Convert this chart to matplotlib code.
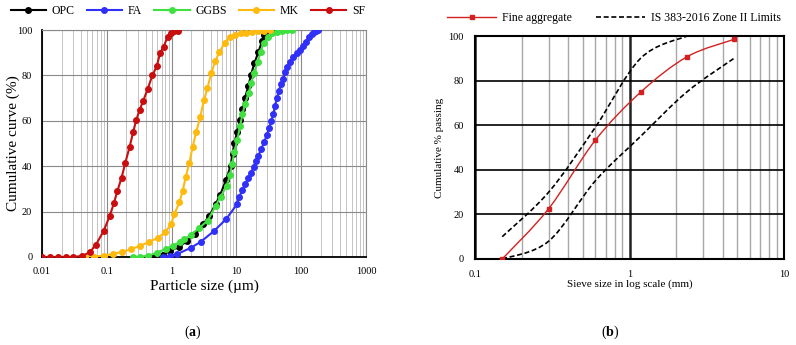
import numpy as np
import matplotlib
matplotlib.use('Agg')
import matplotlib.pyplot as plt
from matplotlib.path import Path
from matplotlib.patches import PathPatch
from matplotlib.lines import Line2D
from matplotlib.ticker import FixedLocator, LogLocator, NullFormatter, FuncFormatter

plt.rcParams['font.family'] = ['Liberation Serif', 'DejaVu Serif']
plt.rcParams['mathtext.fontset'] = 'custom'
plt.rcParams['mathtext.rm'] = 'Liberation Serif'
plt.rcParams['mathtext.bf'] = 'Liberation Serif:bold'

# (a) particle size distribution
opc_size = [0.492, 0.745, 0.955, 1.32, 1.75, 2.30, 3.09, 3.82, 4.79, 5.65,
            6.91, 8.16, 8.75, 9.30, 10.3, 11.4, 12.4, 13.6, 15.3, 16.8,
            18.9, 21.8, 24.8, 27.0, 29.5, 40.0]
opc_cum = [0, 1.0, 2.8, 4.5, 7.2, 10.0, 14.5, 18.2, 23.3, 27.5,
           33.9, 40.2, 45.5, 50.4, 55.1, 60.4, 65.2, 70.2, 75.3, 80.2,
           85.3, 90.2, 95.0, 97.6, 99.0, 100]

fa_size = [0.745, 0.93, 1.22, 1.97, 2.85, 4.57, 7.0, 10.3, 11.0, 12.3,
           13.6, 15.3, 16.8, 18.5, 19.9, 21.8, 24.0, 27.0, 29.4, 32.0,
           34.5, 37.1, 39.4, 42.3, 45.4, 48.8, 53.0, 56.2, 61.1, 67.2,
           75.5, 85.3, 95.8, 108, 119, 133, 147, 158, 169, 184]
fa_cum = [0, 0.4, 1.3, 4.0, 6.8, 11.6, 16.8, 23.4, 26.3, 29.5,
          32.2, 34.7, 37.1, 39.8, 42.3, 44.6, 47.4, 50.8, 53.7, 56.8,
          59.9, 63.0, 66.5, 70.2, 73.3, 76.2, 78.6, 81.6, 83.8, 85.8,
          88.0, 89.7, 91.2, 93.1, 94.9, 96.8, 98.1, 99.0, 99.7, 100]

ggbs_size = [0.251, 0.325, 0.437, 0.589, 0.810, 1.04, 1.35, 1.57, 1.99, 2.68,
             3.60, 4.79, 5.72, 7.08, 7.97, 8.6, 9.30, 10.3, 11.4, 12.4,
             13.6, 15.5, 17.0, 18.7, 21.3, 23.7, 26.4, 31.1, 35.0, 41.8,
             50.0, 59.7, 72.1]
ggbs_cum = [0, 0.2, 0.5, 1.9, 3.5, 5.0, 6.6, 7.9, 9.7, 12.9,
            16.0, 22.6, 26.6, 31.3, 36.1, 41.0, 46.4, 51.5, 57.7, 62.9,
            67.4, 72.4, 76.5, 81.2, 85.9, 90.4, 94.4, 97.1, 98.5, 99.3,
            99.6, 100, 100]

mk_size = [0.0461, 0.0642, 0.0895, 0.126, 0.172, 0.236, 0.329, 0.448, 0.617, 0.800,
           0.979, 1.10, 1.32, 1.48, 1.65, 1.88, 2.11, 2.41, 2.77, 3.16,
           3.56, 4.10, 4.73, 5.45, 6.59, 7.97, 9.51, 11.6, 14.2, 17.6,
           21.8, 26.7, 33.0]
mk_cum = [0, 0.2, 0.6, 1.3, 2.3, 3.4, 5.0, 6.6, 8.5, 11.0,
          14.4, 18.8, 24.1, 29.1, 35.1, 41.5, 48.5, 55.2, 61.8, 69.0,
          74.3, 81.1, 86.3, 90.2, 94.4, 96.8, 97.7, 98.5, 98.8, 99.1,
          99.4, 99.7, 99.8]

sf_size = [0.01, 0.0133, 0.0179, 0.0232, 0.0304, 0.0419, 0.0551, 0.068, 0.0897, 0.111,
           0.129, 0.146, 0.169, 0.193, 0.225, 0.256, 0.285, 0.321, 0.366, 0.427,
           0.505, 0.589, 0.663, 0.755, 0.869, 0.968, 1.09, 1.24]
sf_cum = [0, 0, 0, 0, 0, 0.5, 2.2, 5.4, 11.6, 18.1,
          23.8, 29.2, 34.9, 41.5, 48.5, 55.2, 60.4, 64.8, 68.9, 74.0,
          80.0, 84.0, 89.7, 92.7, 97.1, 98.7, 99.4, 99.7]

series_names = ['OPC', 'FA', 'GGBS', 'MK', 'SF']
series_colors = ['#000000', '#3030f8', '#3fe03f', '#ffba10', '#c80e0e']

# (b) sieve analysis
sieve = [0.15, 0.3, 0.6, 1.18, 2.36, 4.75]
fine_agg = [0, 22.6, 53.2, 74.8, 90.7, 98.5]
zone2_upper = [10, 30, 59, 90, 100]
zone2_lower = [0, 8, 35, 55, 75, 90]


def smooth_path(xs, ys):
    # excel-style smoothed line: bezier through the points, in log-x space
    P = np.column_stack([np.log10(xs), ys]).astype(float)
    n = len(P)
    verts = [P[0]]
    codes = [Path.MOVETO]
    for i in range(n - 1):
        p0 = P[i - 1] if i > 0 else P[i]
        p3 = P[i + 2] if i + 2 < n else P[i + 1]
        verts += [P[i] + (P[i + 1] - p0) / 6, P[i + 1] - (p3 - P[i]) / 6, P[i + 1]]
        codes += [Path.CURVE4] * 3
    V = np.array(verts)
    V[:, 0] = 10 ** V[:, 0]
    return Path(V, codes)


fig = plt.figure(figsize=(7.96, 3.45), dpi=100)

# ---- (a)
ax1 = fig.add_axes([42 / 796, 88 / 345, 324 / 796, 227 / 345])
data = [(opc_size, opc_cum), (fa_size, fa_cum), (ggbs_size, ggbs_cum),
        (mk_size, mk_cum), (sf_size, sf_cum)]
handles = []
for (x, y), name, c in zip(data, series_names, series_colors):
    h, = ax1.plot(x, y, '-o', color=c, lw=1.5, ms=4, label=name, zorder=3)
    handles.append(h)
ax1.set_xscale('log')
ax1.set_xlim(0.01, 1000)
ax1.set_ylim(0, 100)
ax1.set_yticks([0, 20, 40, 60, 80, 100])
ax1.xaxis.set_major_locator(FixedLocator([0.01, 0.1, 1, 10, 100, 1000]))
ax1.xaxis.set_minor_locator(LogLocator(base=10, subs=np.arange(2, 10)))
ax1.xaxis.set_major_formatter(FuncFormatter(lambda v, p: '%g' % v))
ax1.xaxis.set_minor_formatter(NullFormatter())
ax1.grid(True, which='major', color='#8a8a8a', lw=0.8)
ax1.grid(True, which='minor', axis='x', color='#c4c4c4', lw=0.7)
ax1.tick_params(which='both', length=0, labelsize=7.5, pad=7)
ax1.tick_params(axis='y', pad=7)
for s in ['top', 'right']:
    ax1.spines[s].set_color('#8a8a8a')
    ax1.spines[s].set_linewidth(0.8)
for s in ['left', 'bottom']:
    ax1.spines[s].set_linewidth(1.3)
ax1.set_xlabel('Particle size (µm)', fontsize=11)
ax1.set_ylabel('Cumulative curve (%)', fontsize=11)
ax1.xaxis.set_label_coords(0.5, -0.1)
ax1.yaxis.set_label_coords(-0.068, 0.5)
fig.legend(handles=handles, loc='center', bbox_to_anchor=(188 / 796, 1 - 11 / 345),
           ncol=5, frameon=False, fontsize=8.5, handlelength=3, handletextpad=0.5,
           columnspacing=1.0, borderpad=0)

# ---- (b)
ax2 = fig.add_axes([475 / 796, 86 / 345, 309 / 796, 223 / 345])
ax2.add_patch(PathPatch(smooth_path(sieve[:len(zone2_upper)], zone2_upper), fill=False,
                        edgecolor='black', lw=1.2, linestyle=(0, (3, 1.6)), zorder=3))
ax2.add_patch(PathPatch(smooth_path(sieve, zone2_lower), fill=False,
                        edgecolor='black', lw=1.2, linestyle=(0, (3, 1.6)), zorder=3))
ax2.add_patch(PathPatch(smooth_path(sieve, fine_agg), fill=False,
                        edgecolor='#d42020', lw=1.0, zorder=4))
ax2.plot(sieve, fine_agg, 's', color='#d42020', ms=3.5, zorder=5)
ax2.set_xscale('log')
ax2.set_xlim(0.1, 10)
ax2.set_ylim(0, 100)
ax2.set_yticks([0, 20, 40, 60, 80, 100])
ax2.xaxis.set_major_locator(FixedLocator([0.1, 1, 10]))
ax2.xaxis.set_minor_locator(LogLocator(base=10, subs=np.arange(2, 10)))
ax2.xaxis.set_major_formatter(FuncFormatter(lambda v, p: '%g' % v))
ax2.xaxis.set_minor_formatter(NullFormatter())
ax2.grid(True, which='major', axis='y', color='black', lw=1.2)
ax2.grid(True, which='major', axis='x', color='#222222', lw=1.8)
ax2.grid(True, which='minor', axis='x', color='#a8a8a8', lw=1.0)
ax2.tick_params(which='both', length=0, labelsize=7.5, pad=8)
for s in ax2.spines.values():
    s.set_linewidth(1.5)
ax2.set_xlabel('Sieve size in log scale (mm)', fontsize=8)
ax2.set_ylabel('Cumulative % passing', fontsize=8)
ax2.xaxis.set_label_coords(0.5, -0.092)
ax2.yaxis.set_label_coords(-0.1, 0.5)
leg_handles = [Line2D([], [], color='#d42020', lw=1.0, marker='s', ms=3.5),
               Line2D([], [], color='black', lw=1.2, linestyle=(0, (3, 1.6)))]
fig.legend(leg_handles, ['Fine aggregate', 'IS 383-2016 Zone II Limits'], loc='center',
           bbox_to_anchor=(614 / 796, 1 - 18 / 345), ncol=2, frameon=False, fontsize=8.5,
           handlelength=4.2, handletextpad=0.5, columnspacing=2.0, borderpad=0)

fig.text(193 / 796, 1 - 332 / 345, r'$\mathrm{(}\mathbf{a}\mathrm{)}$', ha='center', va='center', fontsize=10)
fig.text(610 / 796, 1 - 332 / 345, r'$\mathrm{(}\mathbf{b}\mathrm{)}$', ha='center', va='center', fontsize=10)

fig.savefig('out.png', dpi=100)
